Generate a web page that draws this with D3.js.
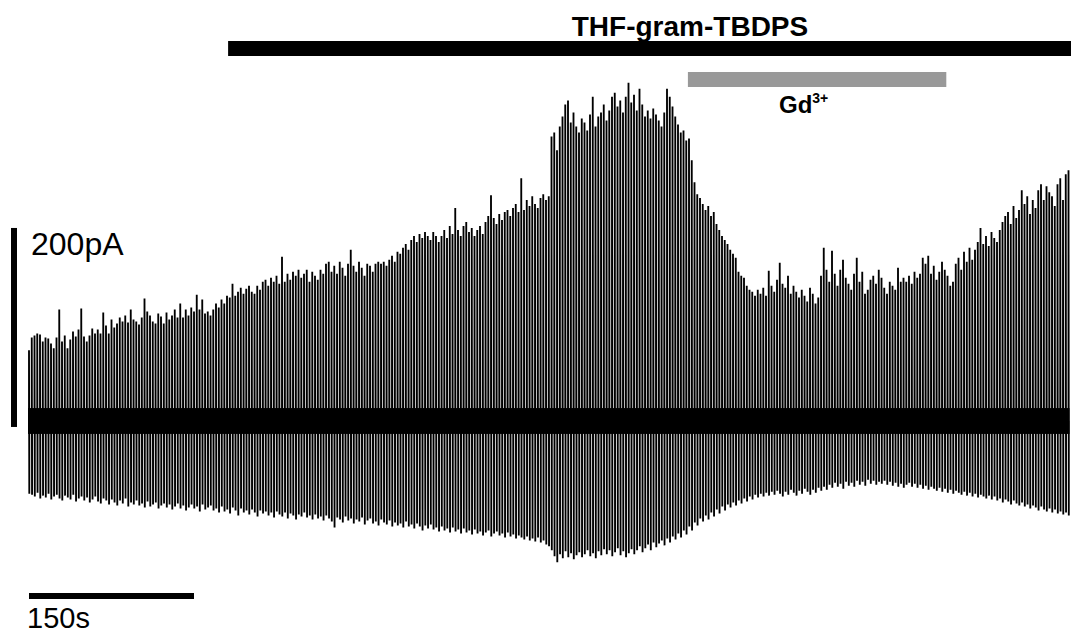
<!DOCTYPE html>
<html>
<head>
<meta charset="utf-8">
<script src="https://cdn.jsdelivr.net/npm/d3@7"></script>
<style>
  html, body { margin: 0; padding: 0; background: #fff; }
  svg { display: block; }
  text { font-family: "Liberation Sans", Arial, sans-serif; fill: #000; }
</style>
</head>
<body>
<svg id="chart" width="1071" height="634"></svg>
<script>
// Sweep interval of the repetitive voltage protocol (s)
const sweepInterval = 2.5;

// Peak outward current of each sweep (pA, relative to holding current)
const peaks = [
  71, 84, 86, 88, 87, 80, 84, 83, 78, 73, 84, 112, 80, 86, 73, 82, 90, 85, 92, 113,
  85, 80, 86, 93, 88, 92, 88, 109, 96, 88, 102, 94, 98, 104, 100, 106, 99, 112, 102, 100,
  97, 104, 123, 110, 106, 100, 98, 108, 105, 98, 109, 102, 106, 112, 104, 118, 104, 112, 106, 114,
  110, 127, 112, 122, 108, 110, 106, 112, 118, 114, 122, 118, 126, 124, 138, 126, 130, 134, 128, 133,
  136, 130, 128, 136, 132, 140, 142, 136, 144, 140, 146, 138, 165, 140, 148, 142, 150, 146, 152, 144,
  148, 152, 140, 150, 146, 142, 152, 148, 158, 160, 150, 156, 148, 160, 154, 146, 158, 172, 156, 150,
  160, 154, 146, 158, 156, 150, 158, 160, 158, 160, 156, 162, 166, 160, 170, 168, 174, 178, 172, 182,
  186, 180, 188, 184, 190, 186, 182, 190, 186, 180, 186, 192, 184, 196, 188, 214, 192, 186, 196, 200,
  190, 194, 186, 192, 196, 188, 200, 206, 227, 204, 198, 208, 202, 210, 212, 206, 214, 218, 210, 244,
  212, 222, 216, 226, 218, 214, 224, 228, 222, 226, 286, 290, 272, 296, 306, 318, 322, 300, 310, 296,
  290, 304, 300, 292, 308, 326, 296, 306, 310, 318, 302, 312, 326, 330, 316, 322, 310, 326, 340, 320,
  328, 312, 334, 318, 306, 312, 304, 314, 308, 302, 296, 310, 334, 326, 316, 306, 298, 290, 292, 282,
  284, 262, 240, 228, 224, 218, 212, 216, 206, 210, 198, 192, 186, 182, 178, 172, 168, 164, 150, 146,
  144, 136, 132, 130, 126, 132, 128, 134, 126, 151, 136, 130, 142, 159, 138, 134, 146, 128, 136, 130,
  124, 132, 126, 120, 134, 128, 118, 124, 146, 174, 152, 140, 171, 148, 136, 152, 162, 144, 138, 132,
  148, 164, 140, 150, 128, 132, 142, 146, 138, 152, 144, 134, 128, 140, 136, 132, 154, 140, 144, 140,
  146, 138, 150, 144, 148, 164, 158, 166, 148, 156, 142, 150, 160, 152, 146, 136, 140, 158, 164, 152,
  170, 160, 174, 162, 172, 180, 194, 178, 186, 176, 190, 184, 180, 192, 200, 206, 210, 198, 216, 204,
  212, 232, 218, 226, 208, 222, 214, 232, 238, 222, 236, 230, 226, 216, 238, 244, 222, 248, 252
];

// Peak inward current of each sweep (pA)
const troughs = [
  -73, -74, -76, -72, -78, -75, -77, -73, -79, -76,
  -74, -78, -80, -75, -77, -79, -74, -81, -78, -76,
  -80, -77, -82, -79, -76, -81, -83, -78, -80, -84,
  -79, -82, -85, -80, -83, -78, -86, -82, -84, -80,
  -85, -83, -87, -81, -86, -84, -82, -88, -85, -83,
  -87, -84, -89, -86, -83, -88, -85, -90, -87, -84,
  -88, -86, -91, -84, -89, -87, -85, -90, -88, -92,
  -86, -91, -89, -93, -87, -90, -95, -88, -92, -90,
  -94, -89, -92, -96, -90, -93, -91, -95, -92, -97,
  -91, -94, -96, -92, -98, -93, -95, -99, -94, -96,
  -92, -97, -95, -99, -94, -98, -96, -100, -95, -98,
  -101, -107, -97, -99, -102, -96, -100, -98, -103, -99,
  -101, -97, -104, -100, -98, -103, -101, -105, -99, -102,
  -104, -100, -106, -102, -105, -103, -107, -101, -106, -104,
  -108, -103, -106, -110, -105, -108, -104, -109, -107, -111,
  -106, -110, -108, -112, -107, -111, -109, -113, -108, -112,
  -110, -114, -109, -113, -111, -115, -112, -110, -116, -113,
  -111, -115, -113, -117, -112, -116, -114, -118, -115, -117,
  -119, -116, -120, -118, -121, -117, -122, -120, -124, -126,
  -130, -136, -142, -134, -138, -131, -137, -133, -139, -135,
  -132, -137, -134, -130, -136, -133, -138, -131, -135, -129,
  -134, -130, -136, -132, -128, -135, -131, -137, -133, -129,
  -134, -130, -126, -132, -128, -124, -130, -122, -127, -123,
  -120, -125, -118, -122, -116, -119, -113, -117, -110, -114,
  -106, -110, -102, -105, -98, -101, -95, -99, -92, -96,
  -89, -93, -86, -90, -84, -87, -82, -85, -80, -83,
  -78, -81, -76, -79, -74, -77, -73, -76, -72, -75,
  -71, -74, -70, -73, -76, -71, -74, -69, -72, -75,
  -70, -73, -68, -71, -74, -69, -72, -67, -70, -66,
  -69, -64, -67, -62, -66, -63, -68, -61, -65, -62,
  -66, -60, -64, -61, -65, -59, -63, -60, -64, -61,
  -63, -60, -64, -61, -65, -62, -66, -63, -67, -64,
  -62, -66, -63, -67, -64, -68, -65, -69, -66, -68,
  -70, -67, -71, -68, -72, -69, -73, -70, -72, -74,
  -71, -75, -72, -76, -73, -77, -74, -76, -78, -75,
  -79, -76, -80, -78, -82, -79, -81, -84, -80, -83,
  -85, -82, -86, -84, -88, -85, -87, -90, -86, -89,
  -91, -88, -92, -89, -93, -91, -94, -92, -95
];

// Amplitude of the holding-current noise around zero (pA)
const baselineNoise = 13;

// Drug application periods (s)
const drugLabels = ["THF-gram-TBDPS", "Gd"];
const drugStart = [181, 599];
const drugEnd = [947, 833];
const drugColors = ["#000000", "#999999"];

// Scale bars
const scaleTime = 150;       // s
const scaleCurrent = 200;    // pA
const scaleCurrentFrom = -6; // pA

const svg = d3.select("#chart");

const x = d3.scaleLinear().domain([0, 150]).range([29, 194]);
const y = d3.scaleLinear().domain([0, 200]).range([421, 222]);

const sweeps = peaks.map((p, i) => ({ t: i * sweepInterval, peak: p, trough: troughs[i] }));

// Holding-current noise band
const tEnd = (sweeps.length - 1) * sweepInterval;
svg.append("rect")
  .attr("x", x(0) - 1)
  .attr("y", y(baselineNoise))
  .attr("width", x(tEnd) - x(0) + 2)
  .attr("height", y(-baselineNoise) - y(baselineNoise))
  .attr("fill", "#000");

// Each sweep: outward peak, then inward peak, back to holding level
svg.append("g")
  .selectAll("path")
  .data(sweeps)
  .join("path")
  .attr("d", d => {
    const x0 = x(d.t);
    return `M${x0},${y(0)}L${x0},${y(d.peak)}L${x0 + 0.3},${y(d.trough)}L${x0 + 0.3},${y(0)}`;
  })
  .attr("fill", "none")
  .attr("stroke", "#000")
  .attr("stroke-width", 1.85)
  .attr("stroke-linejoin", "miter");

// Drug application bars
const barY = [41, 72];
const barH = 15;
drugStart.forEach((s, k) => {
  svg.append("rect")
    .attr("x", x(s))
    .attr("y", barY[k])
    .attr("width", Math.min(x(drugEnd[k]), 1071) - x(s) + 1)
    .attr("height", barH)
    .attr("fill", drugColors[k]);
});

svg.append("text")
  .attr("x", 690)
  .attr("y", 36)
  .attr("text-anchor", "middle")
  .attr("font-weight", "bold")
  .attr("font-size", 28)
  .text(drugLabels[0]);

const gd = svg.append("text")
  .attr("x", 779)
  .attr("y", 113)
  .attr("font-weight", "bold")
  .attr("font-size", 24)
  .text(drugLabels[1]);
gd.append("tspan")
  .attr("font-size", 14)
  .attr("dy", -10)
  .text("3+");

// Current scale bar
svg.append("rect")
  .attr("x", 11)
  .attr("y", y(scaleCurrentFrom + scaleCurrent))
  .attr("width", 6)
  .attr("height", y(scaleCurrentFrom) - y(scaleCurrentFrom + scaleCurrent))
  .attr("fill", "#000");
svg.append("text")
  .attr("x", 31)
  .attr("y", 255)
  .attr("font-size", 32)
  .text(scaleCurrent + "pA");

// Time scale bar
svg.append("rect")
  .attr("x", x(0))
  .attr("y", 593)
  .attr("width", x(scaleTime) - x(0))
  .attr("height", 6)
  .attr("fill", "#000");
svg.append("text")
  .attr("x", 27)
  .attr("y", 628)
  .attr("font-size", 29)
  .text(scaleTime + "s");
</script>
</body>
</html>
